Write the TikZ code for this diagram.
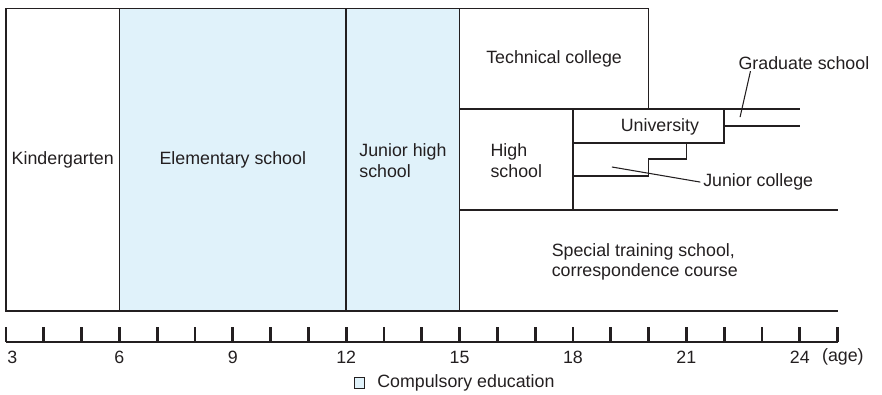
\documentclass[tikz,border=0pt]{standalone}
\usepackage{fontspec}
\setmainfont{Liberation Sans}
\usetikzlibrary{positioning}
\definecolor{ink}{HTML}{231F20}
\definecolor{compulsory}{HTML}{E0F2FA}

\begin{document}
\begin{tikzpicture}[x=1cm, y=1cm,
    every node/.style={font=\fontsize{13.4}{15.5}\selectfont, text=ink, inner sep=0pt},
    frame/.style={draw=ink, line width=1.1pt},
    rule/.style={draw=ink, line width=0.8pt},
    axis/.style={draw=ink, line width=2pt}]

	\useasboundingbox (2.841,-2.196) rectangle (26.175,8.228);

	% COMPULSORY PART (ages 3 to 15)
	\fill[compulsory] (6,0) rectangle (15,8);
	\draw[frame] (3,0) rectangle (15,8);
	\draw[frame] (6,0) -- (6,8);
	\draw[frame] (12,0) -- (12,8);

	\node (kinder) at (4.5,4) {Kindergarten};
	\node (elementary) at (9,4) {Elementary school};
	\node[align=left] (juniorhigh) at (13.5,3.98) {Junior high\\school};

	% AFTER 15
	\draw[frame] (15,8) -- (20,8) -- (20,5.344);
	\draw[rule] (15,5.344) -- (24,5.344);
	\draw[frame] (18,5.344) -- (18,2.672);
	\draw[rule] (15,2.672) -- (25,2.672);
	\draw[rule] (15,0) -- (25,0);
	\node (technical) at (17.5,6.66) {Technical college};
	\node[align=left] (highschool) at (16.5,3.98) {High\\school};

	% university, graduate school, junior college
	\draw[frame] (18,4.445) -- (22,4.445) -- (22,5.344);
	\draw[rule] (22,4.895) -- (24,4.895);
	\draw[frame] (18,3.572) -- (20,3.572) -- (20,4.022) -- (21,4.022) -- (21,4.445);
	\node (university) at (20.3,4.87) {University};

	\node (gradschool) at (24.11,6.56) {Graduate school};
	\coordinate (gs end) at (22.42,5.13);
	\draw[rule] (gs end) -- ([xshift=0.32cm, yshift=-1pt]gradschool.south west);

	\node[anchor=west] (juniorcol) at (21.44,3.41) {Junior college};
	\coordinate (jc end) at (19.03,3.81);
	\draw[rule] (jc end) -- ([xshift=-2pt]juniorcol.west);

	\node[align=left] (special) at (19.9,1.3) {Special training school,\\correspondence course};

	% AGE AXIS
	\draw[axis] (3,-0.82) -- (25,-0.82);
	\foreach \a in {3,...,25}
		\draw[axis] (\a,-0.82) -- (\a,-0.423);
	\node[anchor=west] (age3) at (3.03,-1.217) {3};
	\foreach \a in {6,9,...,24}
		\node (age\a) at (\a,-1.217) {\a};
	\node (ageunit) at (25.14,-1.217) {(age)};

	% legend
	\node[draw=ink, fill=compulsory, line width=0.6pt, minimum size=0.28cm] (legendbox) at (12.35,-1.9) {};
	\node[right=9pt of legendbox] (legendtext) {Compulsory education};
\end{tikzpicture}
\end{document}
